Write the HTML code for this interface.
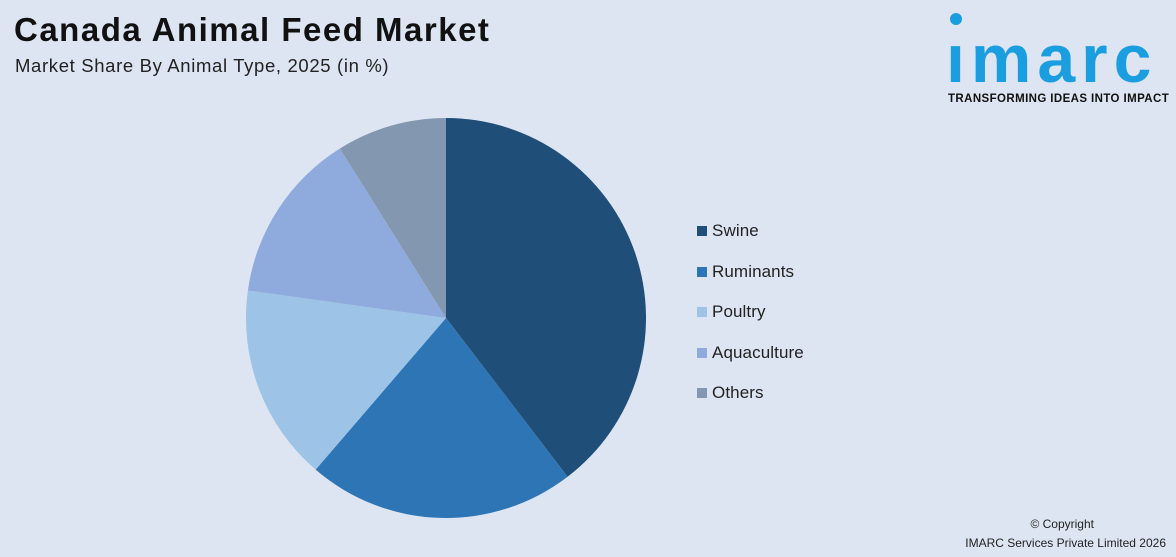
<!DOCTYPE html>
<html><head><meta charset="utf-8"><style>
body{margin:0;width:1176px;height:557px;background:#dde5f2;font-family:"Liberation Sans",sans-serif;position:relative;overflow:hidden}
.t{position:absolute;left:14px;top:11px;font-size:33px;font-weight:bold;color:#111;letter-spacing:1.5px}
.s{position:absolute;left:15px;top:55px;font-size:18.5px;color:#222;letter-spacing:0.65px}
.lg{position:absolute;left:697px;font-size:17px;color:#222;letter-spacing:0.1px}
.lg span{display:inline-block;width:10px;height:10px;margin-right:5px}
.cp{position:absolute;right:10px;font-size:12px;color:#222;text-align:right}
</style></head><body>
<div class="t">Canada Animal Feed Market</div>
<div class="s">Market Share By Animal Type, 2025 (in %)</div>
<div style="position:absolute;left:946px;top:10px;width:228px;height:100px">
<div style="position:absolute;left:4px;top:3px;width:12px;height:12px;border-radius:50%;background:#1a9ee0"></div>
<div style="position:absolute;left:0;top:14px;font-size:68px;font-weight:bold;color:#1a9ee0;letter-spacing:6px;line-height:70px">ımarc</div>
<div style="position:absolute;left:2px;top:83px;font-size:11.5px;font-weight:bold;color:#111;letter-spacing:0.4px">TRANSFORMING IDEAS INTO IMPACT</div>
</div>
<svg id="pie" width="1176" height="557" style="position:absolute;left:0;top:0"></svg>
<div id="legend"></div>
<div class="cp" style="top:517px;right:82px">© Copyright</div>
<div class="cp" style="top:536px">IMARC Services Private Limited 2026</div>
<script>
const categories=["Swine","Ruminants","Poultry","Aquaculture","Others"];
const values=[39.6,21.7,15.9,13.9,8.9];
const colors=["#1f4e79","#2e75b6","#9dc3e6","#8faadc","#8497b0"];
const cx=446,cy=318,r=200;
const svg=document.getElementById('pie');
const total=values.reduce((a,b)=>a+b,0);
let a0=0;
function pt(a){return [cx+r*Math.sin(a),cy-r*Math.cos(a)];}
values.forEach((v,i)=>{
  const a1=a0+v/total*2*Math.PI;
  const [x0,y0]=pt(a0),[x1,y1]=pt(a1);
  const p=document.createElementNS('http://www.w3.org/2000/svg','path');
  p.setAttribute('d',`M${cx},${cy}L${x0},${y0}A${r},${r} 0 ${a1-a0>Math.PI?1:0} 1 ${x1},${y1}Z`);
  p.setAttribute('fill',colors[i]);
  
  
  svg.appendChild(p);
  a0=a1;
});
const lg=document.getElementById('legend');
categories.forEach((c,i)=>{
  const d=document.createElement('div');
  d.className='lg';
  d.style.top=(221+i*40.5)+'px';
  d.innerHTML=`<span style="background:${colors[i]}"></span>${c}`;
  
  
  lg.appendChild(d);
});
</script>
</body></html>
